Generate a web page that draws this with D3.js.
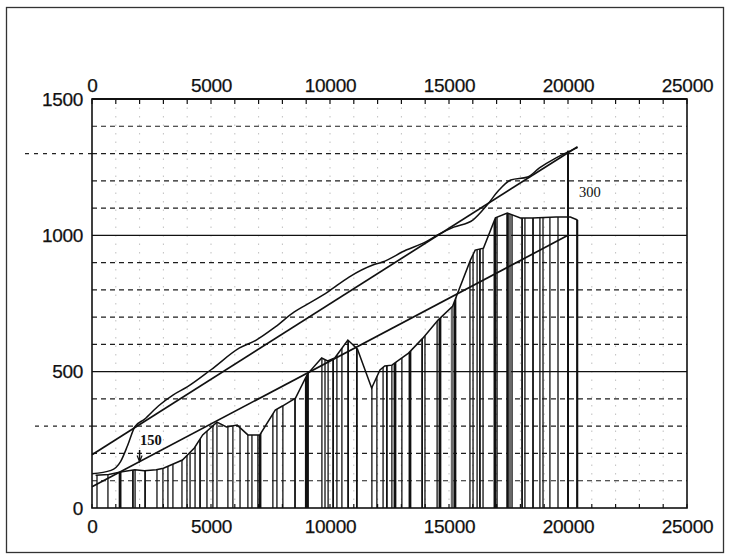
<!DOCTYPE html>
<html>
<head>
<meta charset="utf-8">
<script src="https://cdn.jsdelivr.net/npm/d3@7"></script>
<style>
  html, body { margin: 0; padding: 0; background: #fff; }
  svg { display: block; }
</style>
</head>
<body>
<svg id="chart" width="731" height="560"></svg>
<script>
// ---------------- DATA ----------------
const xTickLabels = [0, 5000, 10000, 15000, 20000, 25000];
const yTickLabels = [0, 500, 1000, 1500];
const minorXTicks = [1000,2000,3000,4000,6000,7000,8000,9000,11000,12000,13000,14000,16000,17000,18000,19000,21000,22000,23000,24000];
const gridY = [100,200,300,400,600,700,800,900,1100,1200,1300,1400];
const solidY = [500, 1000];

// profile (top outline of the hatched area): distance, value
const profileX = [150, 700, 1200, 1800, 2200, 2700, 3000, 3800, 4300, 4650, 5250, 5650, 6100, 6550, 7050, 7700, 8000, 8550, 9050, 9650, 9900, 10200, 10750, 11150, 11750, 12100, 12300, 12600, 13300, 13900, 14550, 15150, 15900, 16100, 16450, 16950, 17450, 18000, 18500, 19500, 20100, 20400];
const profileV = [120, 123, 132, 140, 137, 140, 146, 176, 220, 268, 315, 297, 304, 268, 268, 359, 374, 403, 491, 550, 539, 550, 616, 583, 440, 506, 521, 524, 568, 623, 690, 740, 909, 946, 953, 1064, 1082, 1064, 1064, 1067, 1067, 1056];

// positions of the vertical hatch lines
const barX = [210, 670, 1180, 1720, 1810, 2230, 2730, 2980, 3190, 3400, 3780, 3990, 4120, 4330, 4540, 4830, 5080, 5250, 5710, 5920, 6220, 6550, 6720, 6970, 7060, 7600, 7770, 8020, 8530, 9030, 9660, 9790, 9920, 10130, 10290, 10500, 10760, 11130, 11760, 11970, 12230, 12390, 12600, 12730, 13020, 13360, 13870, 13990, 14500, 14620, 15130, 15250, 15880, 16010, 16180, 16300, 16430, 16930, 17020, 17440, 17480, 17560, 17650, 18070, 18190, 18530, 18820, 18950, 19240, 19580, 20000, 20380];

// irregular upper curve
const curveX = [0, 800, 1200, 1500, 1800, 2200, 2800, 3400, 4000, 5000, 6200, 6900, 7700, 8500, 9000, 9900, 10800, 11800, 12200, 13200, 14000, 14600, 15200, 16000, 16600, 17100, 17600, 18300, 18800, 19500, 20000, 20400];
const curveV = [126, 138, 170, 230, 298, 325, 375, 414, 444, 507, 587, 616, 664, 719, 745, 792, 847, 891, 902, 946, 975, 1005, 1030, 1056, 1111, 1166, 1203, 1214, 1247, 1284, 1306, 1322];

// straight trend lines (endpoints)
const upperLineX = [0, 20400];
const upperLineV = [195, 1325];
const lowerLineX = [0, 20000];
const lowerLineV = [78, 1000];

// annotations
const annotLabels = ["150", "300"];
const annotX = [2000, 20000];

// ---------------- LAYOUT ----------------
const svg = d3.select("#chart");
const L = 92, R = 687, T = 99, B = 508;
const x = d3.scaleLinear().domain([0, 25000]).range([L, R]);
const y = d3.scaleLinear().domain([0, 1500]).range([B, T]);
const ink = "#111";

// outer frame
svg.append("rect").attr("x", 6.5).attr("y", 7.5).attr("width", 717).attr("height", 545)
  .attr("fill", "none").attr("stroke", "#333").attr("stroke-width", 1.3);

// vertical dotted grid
svg.append("g").selectAll("line").data(minorXTicks.concat([5000,10000,15000,20000])).join("line")
  .attr("x1", d => x(d)).attr("x2", d => x(d)).attr("y1", T).attr("y2", B)
  .attr("stroke", "#777").attr("stroke-width", 1).attr("stroke-dasharray", "1.5,7").attr("opacity", 0.45);

// horizontal dashed grid
svg.append("g").selectAll("line").data(gridY).join("line")
  .attr("x1", L).attr("x2", R).attr("y1", d => y(d)).attr("y2", d => y(d))
  .attr("stroke", "#1e1e1e").attr("stroke-width", 1.2).attr("stroke-dasharray", "5,4");

// solid grid at 500 / 1000
svg.append("g").selectAll("line").data(solidY).join("line")
  .attr("x1", L).attr("x2", R).attr("y1", d => y(d)).attr("y2", d => y(d))
  .attr("stroke", ink).attr("stroke-width", 1.2);

// extended dashed lines at left (1300 and 300)
[[1300, 25], [300, 35]].forEach(([v, x0]) => {
  svg.append("line").attr("x1", x0).attr("x2", L).attr("y1", y(v)).attr("y2", y(v))
    .attr("stroke", "#222").attr("stroke-width", 1.2).attr("stroke-dasharray", "4,5");
});

// hatched area: clip path from profile
const areaPts = [[profileX[0], 0]].concat(profileX.map((d, i) => [d, profileV[i]]))
  .concat([[profileX[profileX.length - 1], 0]]);
const polyLine = d3.line().x(d => x(d[0])).y(d => y(d[1]));
svg.append("clipPath").attr("id", "areaClip").append("path").attr("d", polyLine(areaPts) + "Z");

const heavy = new Set([1180, 7060, 12730, 13360, 14620, 15250, 16930, 17480]);
const veryHeavy = new Set([9030]);
const greyBars = new Set([17560, 15130]);
const medium = new Set([1720, 4540, 8530, 20000, 20380, 12390, 2230, 10130, 10760, 11130, 13870, 16300, 18070, 18530]);
svg.append("g").attr("clip-path", "url(#areaClip)").selectAll("line").data(barX).join("line")
  .attr("x1", d => x(d)).attr("x2", d => x(d)).attr("y1", y(0)).attr("y2", y(1200))
  .attr("stroke", d => greyBars.has(d) ? "#6a6a6a" : ink)
  .attr("stroke-width", d => veryHeavy.has(d) ? 4 : heavy.has(d) ? 2.8 : greyBars.has(d) ? 2.6 : medium.has(d) ? 1.8 : 1.3);

// profile outline
svg.append("path").attr("d", polyLine(profileX.map((d, i) => [d, profileV[i]])))
  .attr("fill", "none").attr("stroke", ink).attr("stroke-width", 1.5);
svg.append("line").attr("x1", x(profileX[profileX.length-1])).attr("x2", x(profileX[profileX.length-1]))
  .attr("y1", y(profileV[profileV.length-1])).attr("y2", y(0)).attr("stroke", ink).attr("stroke-width", 1.5);

// straight lines
svg.append("path").attr("d", polyLine(upperLineX.map((d, i) => [d, upperLineV[i]])))
  .attr("fill", "none").attr("stroke", ink).attr("stroke-width", 1.7);
svg.append("path").attr("d", polyLine(lowerLineX.map((d, i) => [d, lowerLineV[i]])))
  .attr("fill", "none").attr("stroke", ink).attr("stroke-width", 1.7);

// irregular curve
svg.append("path").attr("d", d3.line().curve(d3.curveMonotoneX).x((d, i) => x(d)).y((d, i) => y(curveV[i]))(curveX))
  .attr("fill", "none").attr("stroke", ink).attr("stroke-width", 1.5);

// dimension line at 20000 (300)
svg.append("line").attr("x1", x(annotX[1])).attr("x2", x(annotX[1]))
  .attr("y1", y(1310)).attr("y2", y(0)).attr("stroke", ink).attr("stroke-width", 2);
// dimension at 2000 (150)
const lowAt = lowerLineV[0] + (lowerLineV[1] - lowerLineV[0]) * annotX[0] / lowerLineX[1];
svg.append("line").attr("x1", x(annotX[0])).attr("x2", x(annotX[0]))
  .attr("y1", 450).attr("y2", y(lowAt)).attr("stroke", ink).attr("stroke-width", 1.5);
svg.append("path").attr("d", `M${x(annotX[0]) - 2.5},${y(lowAt) - 6} L${x(annotX[0])},${y(lowAt)} L${x(annotX[0]) + 2.5},${y(lowAt) - 6}`)
  .attr("fill", "none").attr("stroke", ink).attr("stroke-width", 1.2);

svg.append("text").attr("x", 140).attr("y", 445).text(annotLabels[0])
  .attr("font-family", "'Liberation Serif', 'DejaVu Serif', serif").attr("font-size", 14.5).attr("font-weight", "bold").attr("fill", ink);
svg.append("text").attr("x", 579).attr("y", 197).text(annotLabels[1])
  .attr("font-family", "'Liberation Serif', 'DejaVu Serif', serif").attr("font-size", 14.5).attr("fill", ink);

// plot frame
svg.append("rect").attr("x", L).attr("y", T).attr("width", R - L).attr("height", B - T)
  .attr("fill", "none").attr("stroke", ink).attr("stroke-width", 1.6);
svg.append("line").attr("x1", L).attr("x2", R).attr("y1", T).attr("y2", T).attr("stroke", ink).attr("stroke-width", 2);

// axes
const font = "'Liberation Sans', Arial, sans-serif";
const topAxis = d3.axisTop(x).tickValues(xTickLabels).tickSize(0).tickPadding(7).tickFormat(d3.format("d"));
const botAxis = d3.axisBottom(x).tickValues(xTickLabels).tickSize(0).tickPadding(12).tickFormat(d3.format("d"));
const leftAxis = d3.axisLeft(y).tickValues(yTickLabels).tickSize(0).tickPadding(9).tickFormat(d3.format("d"));

function styleAxis(g) {
  g.select(".domain").remove();
  g.selectAll("text").attr("font-family", font).attr("font-size", 19).attr("fill", ink)
    .attr("letter-spacing", -0.3).attr("stroke", ink).attr("stroke-width", 0.25);
}
svg.append("g").attr("transform", `translate(0,${T})`).call(topAxis).call(styleAxis);
svg.append("g").attr("transform", `translate(0,${B})`).call(botAxis).call(styleAxis);
svg.append("g").attr("transform", `translate(${L},0)`).call(leftAxis).call(styleAxis);

// small ticks every 1000 on top (inward) and bottom (inward)
const allX = minorXTicks.concat(xTickLabels);
svg.append("g").selectAll("line").data(allX).join("line")
  .attr("x1", d => x(d)).attr("x2", d => x(d)).attr("y1", T).attr("y2", T + 5)
  .attr("stroke", ink).attr("stroke-width", 1.2);
svg.append("g").selectAll("line").data(allX).join("line")
  .attr("x1", d => x(d)).attr("x2", d => x(d)).attr("y1", B).attr("y2", B - 4)
  .attr("stroke", ink).attr("stroke-width", 1.2);
</script>
</body>
</html>
